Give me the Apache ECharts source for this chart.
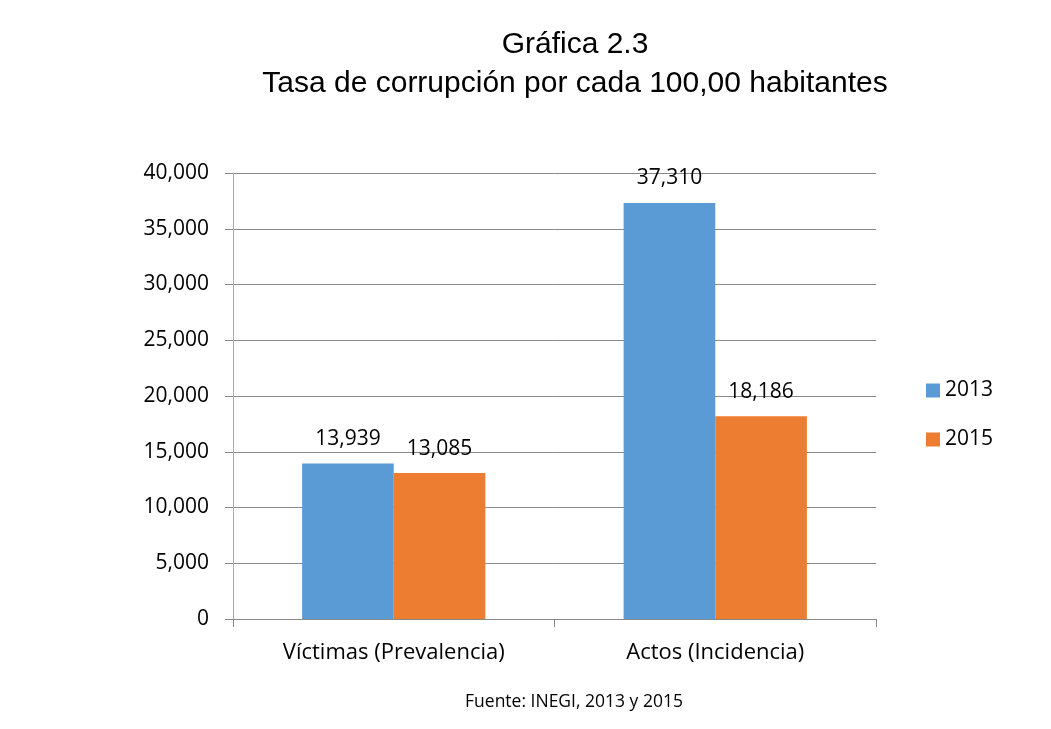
<!DOCTYPE html>
<html><head><meta charset="utf-8">
<script src="https://cdn.jsdelivr.net/npm/echarts@6/dist/echarts.min.js"></script>
<style>html,body{margin:0;padding:0;background:#fff}#c{width:1051px;height:729px}</style>
</head><body><div id="c"></div>
<script>
var categories = ['Víctimas (Prevalencia)', 'Actos (Incidencia)'];
var seriesNames = ['2013', '2015'];
var values2013 = [13939, 37310];
var values2015 = [13085, 18186];
var yTicks = [0, 5000, 10000, 15000, 20000, 25000, 30000, 35000, 40000];

var chart = echarts.init(document.getElementById('c'));
function fmt(v){ return v.toLocaleString('en-US'); }
var labelCfg = {show:true, position:'top', distance:14, color:'#000', fontFamily:'Open Sans', fontSize:21, formatter:function(p){return fmt(p.value);}};
chart.setOption({
  animation:false,
  title:{
    text:'Gráfica 2.3\nTasa de corrupción por cada 100,00 habitantes',
    left:570, top:20, textAlign:'center',
    textStyle:{fontFamily:'Liberation Sans', fontSize:30, fontWeight:'normal', color:'#000', lineHeight:39}
  },
  graphic:[{type:'text', x:574, y:702,
    style:{text:'Fuente: INEGI, 2013 y 2015', fontFamily:'Open Sans', fontSize:17.5, fill:'#000', textAlign:'center', textVerticalAlign:'middle'}}],
  legend:{
    orient:'vertical', left:921, top:375, itemWidth:14, itemHeight:14, itemGap:28,
    icon:'rect',
    textStyle:{fontFamily:'Open Sans', fontSize:21, color:'#000'},
    data:seriesNames
  },
  grid:{left:233, right:175, top:173, bottom:110, containLabel:false},
  xAxis:{
    type:'category', data:categories,
    axisLine:{lineStyle:{color:'#888', width:1}},
    axisTick:{show:true, length:8, lineStyle:{color:'#888'}},
    axisLabel:{fontFamily:'Open Sans', fontSize:22, color:'#000', margin:23}
  },
  yAxis:{
    type:'value', min:0, max:40000, interval:5000,
    axisLine:{show:true, lineStyle:{color:'#aaa'}},
    axisTick:{show:true, length:8, lineStyle:{color:'#888'}},
    splitLine:{lineStyle:{color:'#888'}},
    axisLabel:{fontFamily:'Open Sans', fontSize:21, color:'#000', margin:24, formatter:function(v){return fmt(v);}}
  },
  series:[
    {name:seriesNames[0], type:'bar', data:values2013, barGap:'0%', barCategoryGap:'43%', itemStyle:{color:'#5B9BD5'}, label:labelCfg},
    {name:seriesNames[1], type:'bar', data:values2015, barGap:'0%', barCategoryGap:'43%', itemStyle:{color:'#ED7D31'}, label:labelCfg}
  ]
});
</script></body></html>
